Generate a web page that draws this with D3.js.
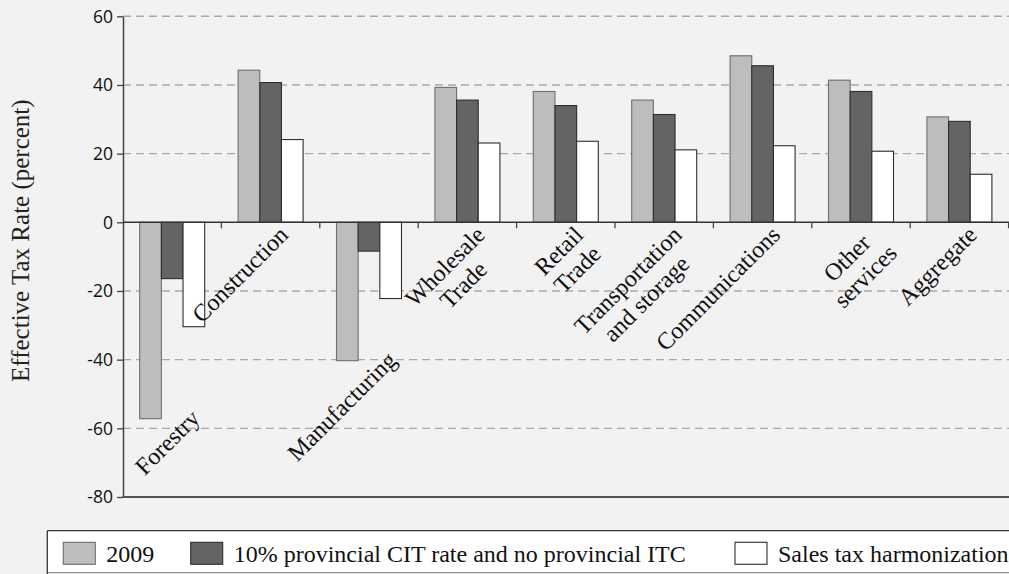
<!DOCTYPE html>
<html><head><meta charset="utf-8">
<script src="https://cdn.jsdelivr.net/npm/d3@7"></script>
<style>body{margin:0;background:#f2f2f2;overflow:hidden} svg{display:block}</style>
</head><body><svg id="chart" width="1009" height="574"></svg>
<script>
// ---- data ----
const categories = ["Forestry", "Construction", "Manufacturing", "Wholesale\nTrade", "Retail\nTrade",
  "Transportation\nand storage", "Communications", "Other\nservices", "Aggregate"];
const seriesNames = ["2009", "10% provincial CIT rate and no provincial ITC", "Sales tax harmonization"];
const values2009 = [-57.2, 44.3, -40.3, 39.3, 38.1, 35.6, 48.5, 41.4, 30.7];
const valuesCIT = [-16.4, 40.7, -8.4, 35.6, 34.0, 31.4, 45.6, 38.1, 29.4];
const valuesSales = [-30.4, 24.1, -22.2, 23.1, 23.6, 21.1, 22.3, 20.7, 14.0];
const yTicks = [60, 40, 20, 0, -20, -40, -60, -80];
const yTitle = "Effective Tax Rate (percent)";

// ---- layout ----
const W = 1009, H = 574;
const plotL = 123, plotR = 1008.6, plotT = 16.3, plotB = 497;
const fills = ["#bcbdbf", "#636466", "#ffffff"];
const strokes = ["#6f6f6f", "#2e2e2e", "#2e2e2e"];
const seriesValues = [values2009, valuesCIT, valuesSales];

const svg = d3.select("#chart");
svg.append("rect").attr("width", W).attr("height", H).attr("fill", "#f2f2f2");

const x0 = d3.scaleBand().domain(d3.range(categories.length)).range([plotL, plotR]).padding(0);
const groupW = 65;
const x1 = d3.scaleBand().domain([0, 1, 2])
  .range([(x0.step() - groupW) / 2, (x0.step() + groupW) / 2]).padding(0);
const y = d3.scaleLinear().domain([-80, 60]).range([plotB, plotT]);

// gridlines
svg.append("g").selectAll("line").data(yTicks.filter(t => t !== 0 && t !== -80)).join("line")
  .attr("x1", plotL).attr("x2", W).attr("y1", d => y(d)).attr("y2", d => y(d))
  .attr("stroke", "#a9a9a9").attr("stroke-width", 1.4).attr("stroke-dasharray", "8,5");

// bars
const groups = svg.append("g").selectAll("g").data(categories).join("g")
  .attr("transform", (d, i) => `translate(${x0(i)},0)`);
groups.selectAll("rect").data((d, i) => seriesValues.map((s, k) => ({k, v: s[i]}))).join("rect")
  .attr("x", d => x1(d.k)).attr("width", x1.bandwidth())
  .attr("y", d => y(Math.max(0, d.v))).attr("height", d => Math.abs(y(d.v) - y(0)))
  .attr("fill", d => fills[d.k]).attr("stroke", d => strokes[d.k]).attr("stroke-width", 1.1);

// y axis
const yAxis = d3.axisLeft(y).tickValues(yTicks).tickSize(6).tickSizeOuter(0).tickPadding(4).tickFormat(d => String(d));
const ga = svg.append("g").attr("transform", `translate(${plotL},0)`).call(yAxis);
ga.select(".domain").attr("stroke", "#444").attr("stroke-width", 1.5);
ga.selectAll(".tick line").attr("stroke", "#444").attr("stroke-width", 1.3);
ga.selectAll(".tick text").attr("font-family", "'Open Sans', sans-serif").attr("font-size", 17.5)
  .attr("fill", "#111").attr("dy", "0.34em");

// zero line and bottom line
svg.append("line").attr("x1", plotL).attr("x2", W).attr("y1", y(0)).attr("y2", y(0))
  .attr("stroke", "#333").attr("stroke-width", 1.5);
svg.append("line").attr("x1", plotL - 0.75).attr("x2", W).attr("y1", y(-80)).attr("y2", y(-80))
  .attr("stroke", "#555").attr("stroke-width", 2);

// category ticks on zero line
svg.append("g").selectAll("line").data(d3.range(1, categories.length + 1)).join("line")
  .attr("x1", i => plotL + i * x0.step()).attr("x2", i => plotL + i * x0.step())
  .attr("y1", y(0)).attr("y2", y(0) + 6).attr("stroke", "#444").attr("stroke-width", 1.3);

// y title
svg.append("text").attr("transform", `translate(29,${(plotT + plotB) / 2 - 16}) rotate(-90)`)
  .attr("text-anchor", "middle").attr("font-family", "'Liberation Serif', 'Times New Roman', serif")
  .attr("font-size", 25).attr("fill", "#222").text(yTitle);

// category labels (rotated -45, centered multi-line)
const lh = 26, fs = 24;
categories.forEach((c, i) => {
  const minV = Math.min(0, ...seriesValues.map(s => s[i]));
  const cx = x0(i) + x0.step() / 2;
  const neg = minV < 0;
  const ax = cx + (neg ? 21 : 11) + 8, ay = y(minV) + (neg ? -7 : 6) + 8;
  const g = svg.append("g").attr("transform", `translate(${ax},${ay}) rotate(-45)`);
  const lines = c.split("\n");
  const texts = lines.map((t, j) => g.append("text").attr("y", j * lh)
    .attr("font-family", "'Liberation Serif', 'Times New Roman', serif").attr("font-size", fs)
    .attr("fill", "#111").attr("text-anchor", "end").text(t));
  const widths = texts.map(t => t.node().getComputedTextLength());
  const mw = d3.max(widths);
  texts.forEach((t, j) => t.attr("x", -(mw - widths[j]) / 2));
});

// legend
const lg = svg.append("g");
lg.append("rect").attr("x", 47.3).attr("y", 530.7).attr("width", 1000).attr("height", 42)
  .attr("fill", "#ffffff").attr("stroke", "none");
lg.append("line").attr("x1", 47.3).attr("x2", W).attr("y1", 530.7).attr("y2", 530.7).attr("stroke", "#333").attr("stroke-width", 1.3);
lg.append("line").attr("x1", 47.3).attr("x2", W).attr("y1", 572.7).attr("y2", 572.7).attr("stroke", "#999").attr("stroke-width", 1.3);
lg.append("line").attr("x1", 47.3).attr("x2", 47.3).attr("y1", 530.7).attr("y2", 574).attr("stroke", "#333").attr("stroke-width", 1.3);
const legendX = [63.3, 190.7, 735];
seriesNames.forEach((n, k) => {
  lg.append("rect").attr("x", legendX[k]).attr("y", 542.3).attr("width", 32).attr("height", 22)
    .attr("fill", fills[k]).attr("stroke", strokes[k]).attr("stroke-width", 1.1);
  lg.append("text").attr("x", legendX[k] + 43).attr("y", 561.5)
    .attr("font-family", "'Liberation Serif', 'Times New Roman', serif").attr("font-size", 24)
    .attr("fill", "#111").text(n);
});
</script></body></html>
